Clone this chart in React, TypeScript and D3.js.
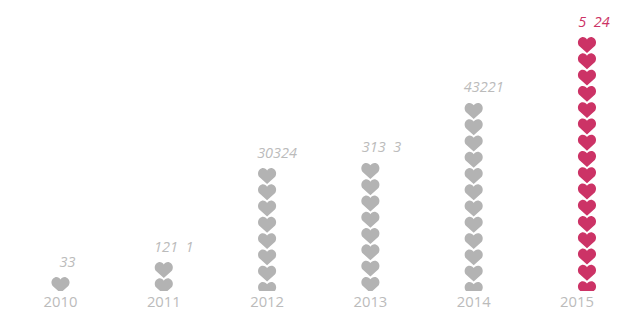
import React from "react";
import * as d3 from "d3";

const years = ["2010", "2011", "2012", "2013", "2014", "2015"];
const labels = ["33", "121  1", "30324", "313  3", "43221", "5  24"];
const stackHeights = [0.86, 1.78, 7.56, 7.87, 11.56, 15.61];
const heartOffsets = [0, 0, 0, 0, 0, 10];
const labelOffsets = [7, 10, 10, 11, 10, 7];
const labelColor = "#bbbbbb";
const valueColor = "#bbbbbb";
const grey = "#b3b3b3";
const accent = "#cc3366";

const W = 624, H = 323;
const x = d3.scalePoint<string>().domain(years).range([60.5, 577]);
const y = d3.scaleLinear().domain([0, 16]).range([291, 30.7]);
const unit = y(0) - y(1);

const heartW = 19, heartH = 16;
const heartPath = (() => {
  const w = heartW / 2, h = heartH;
  const p = d3.path();
  p.moveTo(0, h);
  p.lineTo(-w * 0.82, h * 0.56);
  p.bezierCurveTo(-w * 1.02, h * 0.44, -w * 1.04, h * 0.1, -w * 0.56, h * 0.01);
  p.bezierCurveTo(-w * 0.3, -h * 0.02, -w * 0.1, h * 0.06, 0, h * 0.15);
  p.bezierCurveTo(w * 0.1, h * 0.06, w * 0.3, -h * 0.02, w * 0.56, h * 0.01);
  p.bezierCurveTo(w * 1.04, h * 0.1, w * 1.02, h * 0.44, w * 0.82, h * 0.56);
  p.closePath();
  return p.toString();
})();

const font = "'Open Sans', sans-serif";

export default function App() {
  return (
    <svg width={W} height={H} style={{ position: "absolute", left: 0, top: 0, background: "#fff" }}>
      <defs>
        <clipPath id="plot"><rect x={0} y={0} width={W} height={y(0)} /></clipPath>
      </defs>
      <g clipPath="url(#plot)">
        {years.map((yr, i) => {
          const top = y(stackHeights[i]);
          const n = Math.ceil(stackHeights[i]);
          const cx = x(yr)! + heartOffsets[i];
          return d3.range(n).map(k => (
            <path key={yr + k} d={heartPath}
              transform={`translate(${cx},${top + k * unit})`}
              fill={yr === "2015" ? accent : grey} />
          ));
        })}
      </g>
      {years.map((yr) => (
        <text key={yr} x={x(yr)} y={307} textAnchor="middle" fontFamily={font} fontSize={14.8} fill={labelColor}>{yr}</text>
      ))}
      {years.map((yr, i) => (
        <text key={yr + "v"} x={x(yr)! + heartOffsets[i] + labelOffsets[i]} y={y(stackHeights[i]) - 10.5}
          textAnchor="middle" fontFamily={font} fontSize={14.5} fontStyle="italic" style={{ whiteSpace: "pre" }}
          fill={yr === "2015" ? accent : valueColor}>{labels[i]}</text>
      ))}
    </svg>
  );
}
